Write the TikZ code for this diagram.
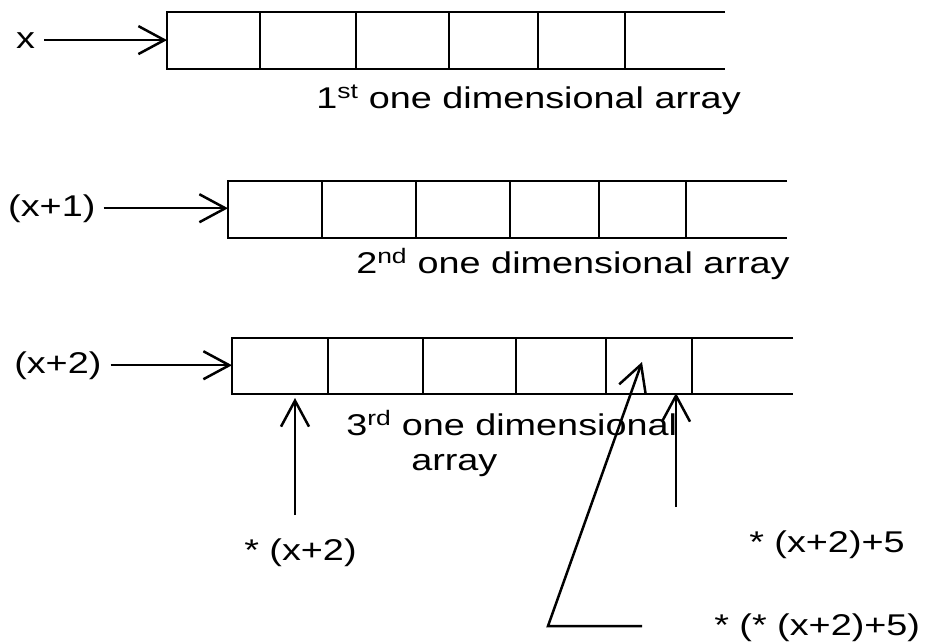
\documentclass[tikz,border=0pt]{standalone}
\usepackage{fontspec}
\setmainfont[FakeStretch=1.26]{Liberation Sans}
\usetikzlibrary{positioning,arrows.meta}

\begin{document}
\begin{tikzpicture}[x=1pt, y=-1pt, line width=2.5pt,
    ptr/.style={-{Straight Barb[length=26pt,width=28pt,line width=2.5pt]}},
    lbl/.style={inner sep=0pt, anchor=base west, font=\fontsize{30}{35}\selectfont}]
  \useasboundingbox (0,0) rectangle (925,641);

  % 1st one dimensional array
  \draw (725,12) -- (167,12) -- (167,69) -- (725,69);
  \foreach \d in {260,356,449,538,625} {
    \draw (\d,12) -- (\d,69);
  }
  \coordinate (arr1) at (167,40.5);

  % 2nd one dimensional array
  \draw (787,181) -- (228,181) -- (228,238) -- (787,238);
  \foreach \d in {322,416,510,599,686} {
    \draw (\d,181) -- (\d,238);
  }
  \coordinate (arr2) at (228,209.5);

  % 3rd one dimensional array
  \draw (793,338) -- (232,338) -- (232,394) -- (793,394);
  \foreach \d in {328,423,516,606,692} {
    \draw (\d,338) -- (\d,394);
  }
  \coordinate (arr3) at (232,366);

  % Row pointers
  \node[lbl] (px) at (15,48) {x};
  \node[lbl] (px1) at (7,216) {(x+1)};
  \node[lbl] (px2) at (13,373) {(x+2)};
  \draw[ptr] ([xshift=8pt]px.east) -- (arr1 |- px.east);
  \draw[ptr] ([xshift=7pt]px1.east) -- (arr2 |- px1.east);
  \draw[ptr] ([xshift=8pt]px2.east) -- (arr3 |- px2.east);

  % Captions
  \node[lbl] (cap1) at (315,108) {1\textsuperscript{st} one dimensional array};
  \node[lbl] (cap2) at (355,273) {2\textsuperscript{nd} one dimensional array};
  \node[lbl] (cap3) at (345,435) {3\textsuperscript{rd} one dimensional};
  \node[lbl] (cap3b) at (410,470) {array};

  % Element pointers into the 3rd array
  \node[lbl] (e0) at (243,560) {* (x+2)};
  \node[lbl] (e5) at (748,552) {* (x+2)+5};
  \node[lbl] (v5) at (713,635) {* (* (x+2)+5)};
  \coordinate (s0) at (295,515);
  \coordinate (t0) at (295,398);
  \coordinate (s5) at (676,507);
  \coordinate (t5) at (676,393);
  \coordinate (k1) at (642,626);
  \coordinate (k2) at (548,626);
  \coordinate (t6) at (642,362);
  \draw[ptr] (s0) -- (t0);
  \draw[ptr] (s5) -- (t5);
  \draw[ptr] (k1) -- (k2) -- (t6);
\end{tikzpicture}
\end{document}
